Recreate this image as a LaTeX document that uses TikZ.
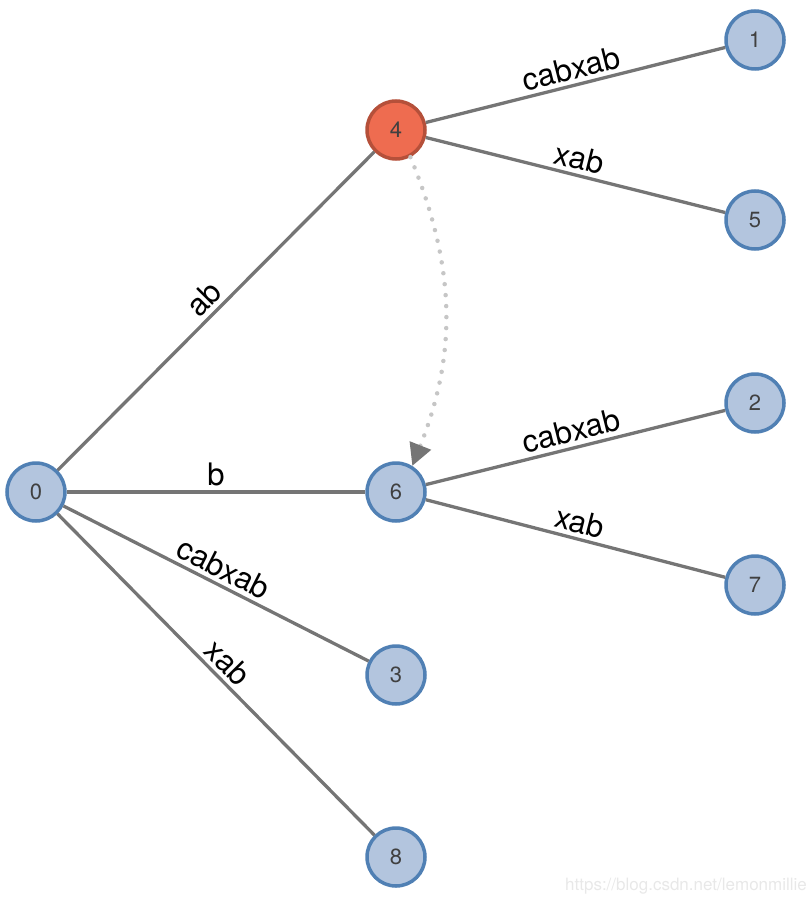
\documentclass[tikz,border=0pt]{standalone}
\usepackage{fontspec}
\setmainfont{TeX Gyre Heros}
\usetikzlibrary{arrows.meta}

\definecolor{nodeblue}{HTML}{B3C5DE}
\definecolor{nodeline}{HTML}{5080B4}
\definecolor{hotfill}{HTML}{EE6C50}
\definecolor{hotline}{HTML}{B5503A}
\definecolor{edgegray}{HTML}{757575}
\definecolor{linkgray}{HTML}{C6C6C6}

\begin{document}
\begin{tikzpicture}[
    x=1pt, y=-1pt,
    vertex/.style={circle, draw=nodeline, fill=nodeblue, line width=3.5pt, minimum size=58pt, inner sep=0pt, font=\fontsize{22}{22}\selectfont, text=black!75},
    hot/.style={vertex, draw=hotline, fill=hotfill},
    edge/.style={draw=edgegray, line width=3.3pt},
    lbl/.style={font=\fontsize{31}{31}\selectfont, sloped, above, inner sep=4pt},
    link/.style={linkgray, line width=4.5pt, line cap=round, dash pattern=on 0pt off 11pt, -{Triangle[length=22pt, width=22pt, color=edgegray]}}
]
\useasboundingbox (0,0) rectangle (808,904);

\node[vertex] (n0) at (36,492) {0};
\node[hot] (n4) at (396,130) {4};
\node[vertex] (n6) at (396,492) {6};
\node[vertex] (n3) at (396,675) {3};
\node[vertex] (n8) at (396,857) {8};
\node[vertex] (n1) at (755,40) {1};
\node[vertex] (n5) at (755,220) {5};
\node[vertex] (n2) at (755,403) {2};
\node[vertex] (n7) at (755,585) {7};

\draw[edge] (n0) -- node[lbl] {ab} (n4);
\draw[edge] (n0) -- node[lbl] {b} (n6);
\draw[edge] (n0) -- node[lbl] {cabxab} (n3);
\draw[edge] (n0) -- node[lbl] {xab} (n8);
\draw[edge] (n4) -- node[lbl] {cabxab} (n1);
\draw[edge] (n4) -- node[lbl] {xab} (n5);
\draw[edge] (n6) -- node[lbl] {cabxab} (n2);
\draw[edge] (n6) -- node[lbl] {xab} (n7);

% suffix link
\draw[link] (n4.-62) to[bend left=22] (n6.58);

\node[text=black!9, font=\fontsize{17}{17}\selectfont] (mark) at (686,886) {https://blog.csdn.net/lemonmillie};

\end{tikzpicture}
\end{document}
